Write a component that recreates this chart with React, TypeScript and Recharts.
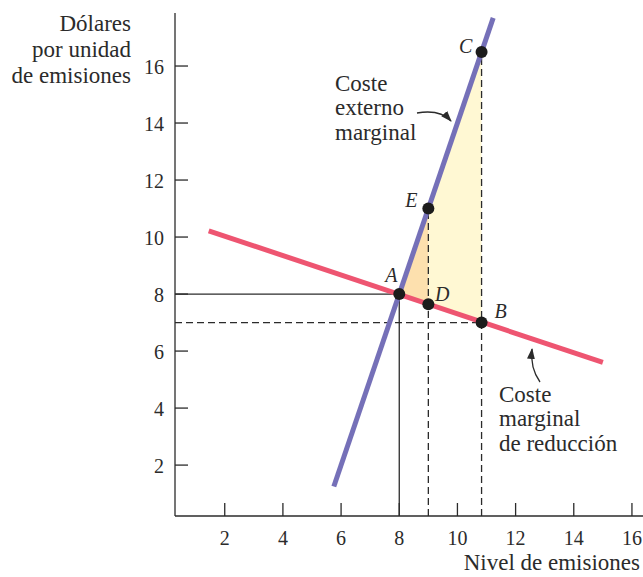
import React from 'react';
import { ComposedChart, Line, Area, Scatter, XAxis, YAxis, ReferenceLine } from 'recharts';

const xTicks = [2, 4, 6, 8, 10, 12, 14, 16];
const yTicks = [2, 4, 6, 8, 10, 12, 14, 16];
const xDomain: [number, number] = [0.29, 16.38];
const yDomain: [number, number] = [0.214, 17.86];

// Coste externo marginal (blue line) end points
const mecX = [5.75, 11.23];
const mecY = [1.25, 17.69];
// Coste marginal de reducción (red line) end points
const mcrX = [1.45, 15.0];
const mcrY = [10.22, 5.6];

// labelled points
const pointNames = ['A', 'E', 'D', 'B', 'C'];
const pointX = [8, 9, 9, 10.83, 10.83];
const pointY = [8, 11.0, 7.64, 7.0, 16.49];

// shaded areas (low / high bounds)
const orangeX = [8, 9];
const orangeLow = [8, 7.64];
const orangeHigh = [8, 11.0];
const yellowX = [9, 10.83];
const yellowLow = [7.64, 7.0];
const yellowHigh = [11.0, 16.49];

const allX = Array.from(new Set([...mecX, ...mcrX, ...orangeX, ...yellowX])).sort((a, b) => a - b);
const table = allX.map((x) => {
  const row: any = { x };
  mecX.forEach((v, i) => { if (v === x) row.mec = mecY[i]; });
  mcrX.forEach((v, i) => { if (v === x) row.mcr = mcrY[i]; });
  orangeX.forEach((v, i) => { if (v === x) row.orange = [orangeLow[i], orangeHigh[i]]; });
  yellowX.forEach((v, i) => { if (v === x) row.yellow = [yellowLow[i], yellowHigh[i]]; });
  return row;
});
const points = pointNames.map((name, i) => ({ name, x: pointX[i], y: pointY[i] }));

const FONT = '"Liberation Serif", "Times New Roman", serif';
const INK = '#2b2b2b';
const labelOffsets: Record<string, [number, number]> = {
  A: [-8, -12],
  E: [-17, -2],
  D: [14, -3],
  B: [19, -5],
  C: [-16, 1],
};

const YTick = (props: any) => {
  const { x, y, payload } = props;
  return (
    <g>
      <line x1={x} x2={x + 13} y1={y} y2={y} stroke={INK} strokeWidth={1.3} />
      <text x={x - 11} y={y + 7.5} textAnchor="end" fontFamily={FONT} fontSize={20} fill={INK}>
        {payload.value}
      </text>
    </g>
  );
};

const XTick = (props: any) => {
  const { x, y, payload } = props;
  return (
    <g>
      <line x1={x} x2={x} y1={y} y2={y - 13} stroke={INK} strokeWidth={1.3} />
      <text x={x} y={y + 29} textAnchor="middle" fontFamily={FONT} fontSize={20} fill={INK}>
        {payload.value}
      </text>
    </g>
  );
};

const PointShape = (props: any) => {
  const { cx, cy, payload } = props;
  const off = labelOffsets[payload.name] || [0, 0];
  return (
    <g>
      <circle cx={cx} cy={cy} r={6} fill="#1c1c1c" />
      <text x={cx + off[0]} y={cy + off[1]} textAnchor="middle" fontFamily={FONT} fontStyle="italic" fontSize={20} fill={INK}>
        {payload.name}
      </text>
    </g>
  );
};

export default function App() {
  const W = 643;
  const H = 577;
  return (
    <div style={{ position: 'absolute', left: 0, top: 0, width: W, height: H, background: '#fff' }}>
      <ComposedChart width={W} height={H} data={table} margin={{ top: 13, right: 0, bottom: 31, left: 115 }}>
        <XAxis
          type="number"
          dataKey="x"
          domain={xDomain}
          allowDataOverflow
          ticks={xTicks}
          interval={0}
          height={30}
          tickSize={0}
          tickMargin={0}
          tickLine={false}
          axisLine={{ stroke: INK, strokeWidth: 1.3 }}
          tick={<XTick />}
        />
        <YAxis
          type="number"
          domain={yDomain}
          allowDataOverflow
          ticks={yTicks}
          interval={0}
          width={60}
          tickSize={0}
          tickMargin={0}
          tickLine={false}
          axisLine={{ stroke: INK, strokeWidth: 1.3 }}
          tick={<YTick />}
        />
        <Area type="linear" dataKey="yellow" stroke="none" fill="#FFF8D3" fillOpacity={1} isAnimationActive={false} />
        <Area type="linear" dataKey="orange" stroke="none" fill="#FDE0AE" fillOpacity={1} isAnimationActive={false} />
        <ReferenceLine segment={[{ x: xDomain[0], y: pointY[0] }, { x: pointX[0], y: pointY[0] }]} stroke={INK} strokeWidth={1.3} />
        <ReferenceLine segment={[{ x: pointX[0], y: yDomain[0] }, { x: pointX[0], y: pointY[0] }]} stroke={INK} strokeWidth={1.3} />
        <ReferenceLine segment={[{ x: xDomain[0], y: pointY[3] }, { x: pointX[3], y: pointY[3] }]} stroke={INK} strokeWidth={1.3} strokeDasharray="7 4" />
        <ReferenceLine segment={[{ x: pointX[1], y: yDomain[0] }, { x: pointX[1], y: pointY[1] }]} stroke={INK} strokeWidth={1.3} strokeDasharray="7 4" />
        <ReferenceLine segment={[{ x: pointX[4], y: yDomain[0] }, { x: pointX[4], y: pointY[4] }]} stroke={INK} strokeWidth={1.3} strokeDasharray="7 4" />
        <Line type="linear" dataKey="mcr" stroke="#EE5571" strokeWidth={5} dot={false} connectNulls isAnimationActive={false} />
        <Line type="linear" dataKey="mec" stroke="#7570B8" strokeWidth={5} dot={false} connectNulls isAnimationActive={false} />
        <Scatter data={points} dataKey="y" shape={<PointShape />} isAnimationActive={false} />
      </ComposedChart>
      <svg width={W} height={H} style={{ position: 'absolute', left: 0, top: 0, pointerEvents: 'none' }}>
        <defs>
          <marker id="ah" markerWidth="11" markerHeight="8" refX="10" refY="4" orient="auto" markerUnits="userSpaceOnUse">
            <path d="M0,0 L11,4 L0,8 Z" fill={INK} />
          </marker>
        </defs>
        <g fontFamily={FONT} fontSize={23} fill={INK}>
          <text x={131} y={31} textAnchor="end">Dólares</text>
          <text x={131} y={57} textAnchor="end">por unidad</text>
          <text x={131} y={83} textAnchor="end">de emisiones</text>
          <text x={335} y={91}>Coste</text>
          <text x={335} y={115}>externo</text>
          <text x={335} y={140}>marginal</text>
          <text x={499} y={402}>Coste</text>
          <text x={499} y={426}>marginal</text>
          <text x={499} y={451}>de reducción</text>
          <text x={640} y={570} textAnchor="end">Nivel de emisiones</text>
        </g>
        <path d="M417,113 Q440,109 451,121" fill="none" stroke={INK} strokeWidth={1.3} markerEnd="url(#ah)" />
        <path d="M540,382 Q530,368 532,349" fill="none" stroke={INK} strokeWidth={1.3} markerEnd="url(#ah)" />
      </svg>
    </div>
  );
}
